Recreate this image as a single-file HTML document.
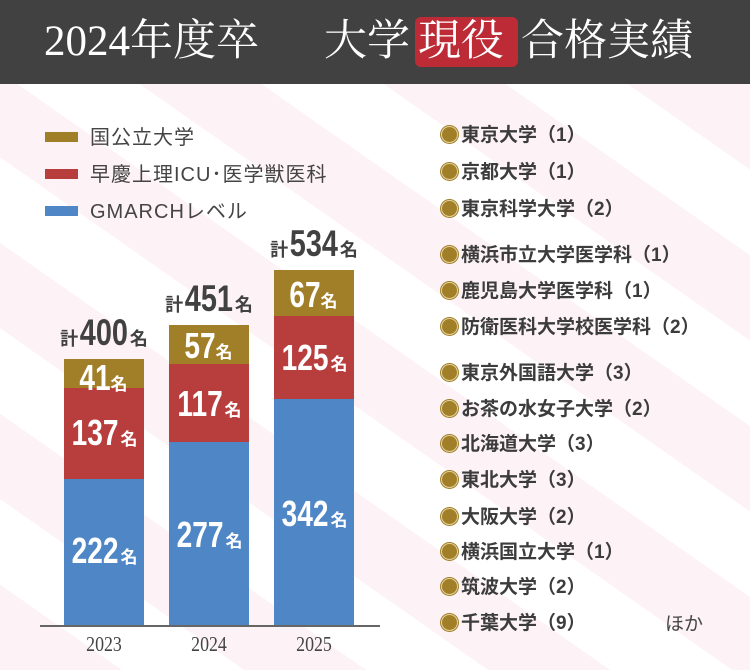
<!DOCTYPE html>
<html><head><meta charset="utf-8"><style>
*{margin:0;padding:0;box-sizing:border-box}
body{width:750px;height:670px;overflow:hidden;position:relative;font-family:"Liberation Sans","Noto Sans CJK JP",sans-serif;
background:repeating-linear-gradient(35deg,#fdf2f5 0 70px,#ffffff 70px 140px);}
.hd{position:absolute;left:0;top:0;width:750px;height:84px;background:#414141;color:#fff;font-family:"Liberation Serif","Noto Serif CJK SC",serif;font-size:43px;line-height:84px;}
.hd span{position:absolute;top:0}
.tag{position:absolute;left:415px;top:17px;width:103px;height:50px;background:#bd2c36;border-radius:6px}
.bar{position:absolute;width:80px}
.g{background:#a17f28}.r{background:#b83e3e}.b{background:#4f86c6}
.v{position:absolute;color:#fff;font-weight:bold;font-size:36px;width:80px;text-align:center;letter-spacing:0px}
.v span,.t span{display:inline-block;transform:scaleX(.78);margin:0 -5px}
.v small,.t small{font-size:17px}
.t{position:absolute;color:#414141;font-weight:bold;font-size:37px;text-align:center;width:120px}
.t i{font-style:normal;font-size:18px}
.yr{position:absolute;top:632px;font-family:"Liberation Serif",serif;font-size:21px;color:#444;width:80px;text-align:center}
.yr span{display:inline-block;transform:scaleX(.85)}
.lg{position:absolute;left:45px;font-size:20px;color:#444;letter-spacing:1px}
.lg b{display:inline-block;width:33px;height:10px;vertical-align:middle;margin-right:12px;margin-top:-4px}
.li{position:absolute;left:439px;font-size:19px;font-weight:bold;color:#3c3c3c;white-space:nowrap}
.li:before{content:"";display:inline-block;width:15px;height:15px;border-radius:50%;background:#a17f28;border:1.5px solid #e6d39d;box-shadow:0 0 0 1px #a17f28;vertical-align:middle;margin:-3px 3px 0 2px}
</style></head><body>
<div class="hd"><div class="tag"></div><span style="left:44px">2024年度卒</span><span style="left:324px">大学</span><span style="left:418px">現役</span><span style="left:521px">合格実績</span></div>

<div class="lg" style="top:121px"><b class="g"></b>国公立大学</div>
<div class="lg" style="top:158px"><b class="r"></b>早慶上理ICU･医学獣医科</div>
<div class="lg" style="top:195px"><b class="b"></b>GMARCHレベル</div>

<div class="bar g" style="left:64px;top:359px;height:29px"></div>
<div class="bar r" style="left:64px;top:388px;height:91px"></div>
<div class="bar b" style="left:64px;top:479px;height:147px"></div>
<div class="bar g" style="left:169px;top:325px;height:39px"></div>
<div class="bar r" style="left:169px;top:364px;height:78px"></div>
<div class="bar b" style="left:169px;top:442px;height:184px"></div>
<div class="bar g" style="left:274px;top:270px;height:46px"></div>
<div class="bar r" style="left:274px;top:316px;height:83px"></div>
<div class="bar b" style="left:274px;top:399px;height:227px"></div>
<div style="position:absolute;left:40px;top:625px;width:340px;height:2px;background:#666"></div>

<div class="t" style="left:44px;top:312px"><i>計</i><span>400</span><i>名</i></div>
<div class="t" style="left:149px;top:278px"><i>計</i><span>451</span><i>名</i></div>
<div class="t" style="left:254px;top:223px"><i>計</i><span>534</span><i>名</i></div>

<div class="v" style="left:64px;top:357px"><span>41</span><small>名</small></div>
<div class="v" style="left:64px;top:412px"><span>137</span><small>名</small></div>
<div class="v" style="left:64px;top:530px"><span>222</span><small>名</small></div>
<div class="v" style="left:169px;top:325px"><span>57</span><small>名</small></div>
<div class="v" style="left:169px;top:383px"><span>117</span><small>名</small></div>
<div class="v" style="left:169px;top:514px"><span>277</span><small>名</small></div>
<div class="v" style="left:274px;top:274px"><span>67</span><small>名</small></div>
<div class="v" style="left:274px;top:337px"><span>125</span><small>名</small></div>
<div class="v" style="left:274px;top:493px"><span>342</span><small>名</small></div>

<div class="yr" style="left:64px"><span>2023</span></div>
<div class="yr" style="left:169px"><span>2024</span></div>
<div class="yr" style="left:274px"><span>2025</span></div>

<div class="li" style="top:120px">東京大学（1）</div>
<div class="li" style="top:157px">京都大学（1）</div>
<div class="li" style="top:194px">東京科学大学（2）</div>
<div class="li" style="top:240px">横浜市立大学医学科（1）</div>
<div class="li" style="top:276px">鹿児島大学医学科（1）</div>
<div class="li" style="top:312px">防衛医科大学校医学科（2）</div>
<div class="li" style="top:358px">東京外国語大学（3）</div>
<div class="li" style="top:394px">お茶の水女子大学（2）</div>
<div class="li" style="top:429px">北海道大学（3）</div>
<div class="li" style="top:465px">東北大学（3）</div>
<div class="li" style="top:502px">大阪大学（2）</div>
<div class="li" style="top:537px">横浜国立大学（1）</div>
<div class="li" style="top:572px">筑波大学（2）</div>
<div class="li" style="top:608px">千葉大学（9）</div>
<div style="position:absolute;left:665px;top:609px;font-size:19px;color:#444">ほか</div>
</body></html>
